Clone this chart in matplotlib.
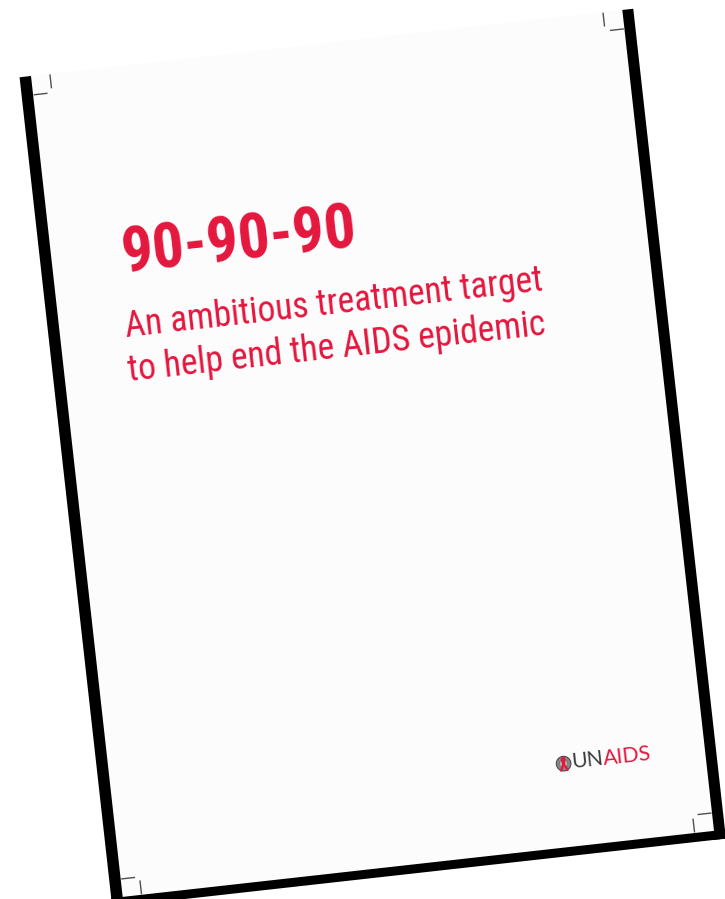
import numpy as np
import matplotlib
matplotlib.use("Agg")
import matplotlib.pyplot as plt
from matplotlib import font_manager
from matplotlib.patches import Polygon, Circle
from matplotlib.transforms import Affine2D

# texts on the cover
title = "90-90-90"
subtitle_lines = ["An ambitious treatment target", "to help end the AIDS epidemic"]
logo_parts = ["UN", "AIDS"]

RED = "#e4173e"
DARK = "#3c3c3c"

# page size (px) and tilt of the photographed sheet
PAGE_W, PAGE_H = 595, 826
TILT = np.arctan2(66, 591)


def pick(cands):
    names = {f.name for f in font_manager.fontManager.ttflist}
    for c in cands:
        if c in names:
            return c
    return "DejaVu Sans"


narrow = pick(["Roboto Condensed", "Liberation Sans Narrow", "DejaVu Sans"])
logo_font = pick(["Lato", "Open Sans", "DejaVu Sans"])

fig = plt.figure(figsize=(7.25, 8.99), dpi=100)
ax = fig.add_axes([0, 0, 1, 1])
ax.set_xlim(0, 725)
ax.set_ylim(899, 0)
ax.axis("off")
renderer = fig.canvas.get_renderer()

c, s = np.cos(TILT), np.sin(TILT)
page = Affine2D(np.array([[c, s, 31], [-s, c, 76], [0, 0, 1]])) + ax.transData
ang = np.degrees(TILT)


def rect(u0, v0, u1, v1):
    return [(u0, v0), (u1, v0), (u1, v1), (u0, v1)]


def text_width(txt, size, **kw):
    t = ax.text(0, 0, txt, fontsize=size, **kw)
    w = t.get_window_extent(renderer).width
    t.remove()
    return w


def fit(txt, target, **kw):
    return 50 * target / text_width(txt, 50, **kw)


# dark edges of the sheet (left, right, bottom)
for r in (rect(-11.5, 0, 1, 920), rect(594, 0, 606, 835), rect(-11.5, 825, 606, 835)):
    ax.add_patch(Polygon(r, closed=True, transform=page,
                         facecolor="black", edgecolor="none"))
# the sheet itself
ax.add_patch(Polygon(rect(0, 0, PAGE_W, PAGE_H), closed=True, transform=page,
                     facecolor="#fcfcfc", edgecolor="none"))

# crop marks
for cu in (19, 575.5):
    for cv in (19, 808):
        vu = (0.5, 14.5) if cv < 400 else (PAGE_H - 14.5, PAGE_H - 0.5)
        hu = (0.5, 14.5) if cu < 300 else (PAGE_W - 14.5, PAGE_W - 0.5)
        ax.plot([cu, cu], vu, color="#505050", lw=1.0, transform=page,
                solid_capstyle="butt")
        ax.plot(hu, [cv, cv], color="#505050", lw=1.0, transform=page,
                solid_capstyle="butt")

# title
kw = dict(family=narrow, weight="bold")
fs = fit(title, 236, **kw)
ax.text(70, 206, title, fontsize=fs, color=RED, transform=page, rotation=ang,
        rotation_mode="anchor", ha="left", va="baseline", **kw)

# subtitle
kw = dict(family=narrow)
fs = (fit(subtitle_lines[0], 424, **kw) + fit(subtitle_lines[1], 419, **kw)) / 2
for line, (u, v) in zip(subtitle_lines, [(66, 270), (64, 314)]):
    ax.text(u, v, line, fontsize=fs, color=RED, transform=page, rotation=ang,
            rotation_mode="anchor", ha="left", va="baseline", **kw)

# UNAIDS logo
cx, cy = 453, 742.5
ax.add_patch(Circle((cx, cy), 7.3, transform=page, facecolor="#8a8a8a",
                    edgecolor="#4a4a4a", lw=0.8))
ax.add_patch(Circle((cx, cy), 4.2, transform=page, facecolor="#b5b5b5",
                    edgecolor="#6a6a6a", lw=0.5))
rib_u = [cx - 3.2, cx + 0.8, cx + 1.4, cx, cx - 1.4, cx - 0.8, cx + 3.2]
rib_v = [cy + 6.5, cy - 1.5, cy - 4.5, cy - 6, cy - 4.5, cy - 1.5, cy + 6.5]
ax.plot(rib_u, rib_v, color=RED, lw=1.6, transform=page, solid_joinstyle="round")

kw = dict(family=logo_font)
fs = fit("".join(logo_parts), 80, **kw)
w_un = text_width(logo_parts[0], fs, **kw)
ax.text(461, 748, logo_parts[0], fontsize=fs, color=DARK, transform=page,
        rotation=ang, rotation_mode="anchor", ha="left", va="baseline", **kw)
ax.text(461 + w_un, 748, logo_parts[1], fontsize=fs, color=RED, transform=page,
        rotation=ang, rotation_mode="anchor", ha="left", va="baseline", **kw)

fig.savefig("out.png", dpi=100, facecolor="white")
